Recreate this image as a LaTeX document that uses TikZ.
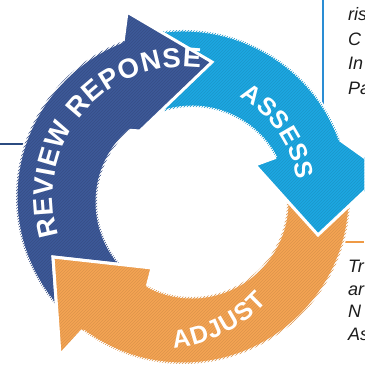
\documentclass[tikz,border=0pt]{standalone}
\usepackage{fontspec}
\setmainfont{Liberation Sans}
\usetikzlibrary{calc,decorations.text,patterns}

\definecolor{arrowblue}{HTML}{3D5998}
\definecolor{arrowcyan}{HTML}{1DA7E1}
\definecolor{arroworange}{HTML}{F4A453}
\definecolor{rulecyan}{HTML}{2A8DD4}
\definecolor{rulenavy}{HTML}{2B4B80}
\definecolor{ruleorange}{HTML}{EF9A45}
\definecolor{notetext}{HTML}{1C1C1C}

\tikzset{
  bodyblue/.style={fill=arrowblue, draw=white, line width=3pt, line join=miter,
    postaction={pattern=north east lines, pattern color=arrowblue!88!black}},
  bodycyan/.style={fill=arrowcyan, draw=white, line width=3pt, line join=miter,
    postaction={pattern=north east lines, pattern color=arrowcyan!90!black}},
  bodyorange/.style={fill=arroworange, draw=white, line width=3pt, line join=miter,
    postaction={pattern=north east lines, pattern color=arroworange!90!black}},
  headblue/.style={fill=arrowblue, postaction={pattern=north east lines, pattern color=arrowblue!88!black}},
  headcyan/.style={fill=arrowcyan, postaction={pattern=north east lines, pattern color=arrowcyan!90!black}},
  headorange/.style={fill=arroworange, postaction={pattern=north east lines, pattern color=arroworange!90!black}},
  headedge/.style={draw=white, line width=3pt, line join=miter},
  rule/.style={line width=2pt},
  arrowlabel/.style={decorate, decoration={text along path, text align=fit to path, text color=white}},
  note/.style={anchor=base west, inner sep=0pt, text=notetext, font=\itshape\fontsize{18}{18}\selectfont}
}

\begin{document}
\begin{tikzpicture}[x=1pt,y=1pt]
\useasboundingbox (0,0) rectangle (364,366);
\clip (0,0) rectangle (364,366);

% centres of the outer rim, the inner hole and the ADJUST label
\coordinate (Co) at (183,169);
\coordinate (Ci) at (192,164);
\coordinate (Ca) at (161,160);

% head points of the three arrows
\coordinate (bOB) at (127,354);
\coordinate (bTip) at (212,304);
\coordinate (bIB) at (140,235);
\coordinate (cOB) at (385,194);
\coordinate (cTip) at (318,131);
\coordinate (cIB) at (255,201);
\coordinate (oOB) at (60,11);
\coordinate (oTip) at (53,109);
\coordinate (oIB) at (152,98);

% callout rules
\coordinate (navyA) at (0,222);
\coordinate (navyB) at (28,222);
\coordinate (cyanA) at (323,366);
\coordinate (cyanB) at (323,261);
\coordinate (orangeA) at (345,124);
\coordinate (orangeB) at (364,124);
\draw[rule, rulenavy] (navyA) -- (navyB);
\draw[rule, rulecyan] (cyanA) -- (cyanB);
\draw[rule, ruleorange] (orangeA) -- (orangeB);

% arrow bodies
\path[bodyblue] ($(Co)+(223:167)$) arc[start angle=223, end angle=111, radius=167]
  -- (bOB) -- (bTip) -- (bIB) -- ($(Ci)+(131:95)$) arc[start angle=131, end angle=225, radius=95] -- cycle;
\path[bodycyan] ($(Co)+(100:167)$) arc[start angle=100, end angle=20, radius=167]
  -- (cOB) -- (cTip) -- (cIB) -- ($(Ci)+(28:95)$) arc[start angle=28, end angle=114, radius=95] -- cycle;
\path[bodyorange] ($(Co)+(4:167)$) arc[start angle=4, end angle=-127, radius=167]
  -- (oOB) -- (oTip) -- (oIB) -- ($(Ci)+(242:95)$) arc[start angle=242, end angle=365, radius=95] -- cycle;

% heads laid over the following tails
\path[headblue] ($(Co)+(111:167)$) -- (bOB) -- (bTip) -- (bIB) -- ($(Ci)+(131:95)$) -- cycle;
\path[headedge] ($(Co)+(111:167)$) -- (bOB) -- (bTip) -- (bIB) -- ($(Ci)+(131:95)$);
\path[headcyan] ($(Co)+(20:167)$) -- (cOB) -- (cTip) -- (cIB) -- ($(Ci)+(28:95)$) -- cycle;
\path[headedge] ($(Co)+(20:167)$) -- (cOB) -- (cTip) -- (cIB) -- ($(Ci)+(28:95)$);
\path[headorange] ($(Co)+(-127:167)$) -- (oOB) -- (oTip) -- (oIB) -- ($(Ci)+(242:95)$) -- cycle;
\path[headedge] ($(Co)+(-127:167)$) -- (oOB) -- (oTip) -- (oIB) -- ($(Ci)+(242:95)$);

% labels along the arrows
\path[arrowlabel, decoration={text={|\bfseries\fontsize{27.5}{27.5}\selectfont|REVIEW REPONSE}}]
  ($(Co)+(197.3:130)$) arc[start angle=197.3, end angle=82.2, radius=130];
\path[arrowlabel, decoration={text={|\bfseries\fontsize{25}{25}\selectfont|ASSESS}}]
  ($(Co)+(60.5:115)$) arc[start angle=60.5, end angle=8.5, radius=115];
\path[arrowlabel, decoration={text={|\bfseries\fontsize{25}{25}\selectfont|ADJUST}}]
  ($(Ca)+(275:143)$) arc[start angle=275, end angle=318, radius=143];

% side notes
\node[note] (n1) at (348,345) {ris};
\node[note] (n2) at (348,320.5) {C};
\node[note] (n3) at (348,296) {In};
\node[note] (n4) at (348,271.5) {Pa};
\node[note] (m1) at (348,93) {Tr};
\node[note] (m2) at (348,70.5) {ar};
\node[note] (m3) at (348,48) {N};
\node[note] (m4) at (348,25.5) {As};
\end{tikzpicture}
\end{document}
